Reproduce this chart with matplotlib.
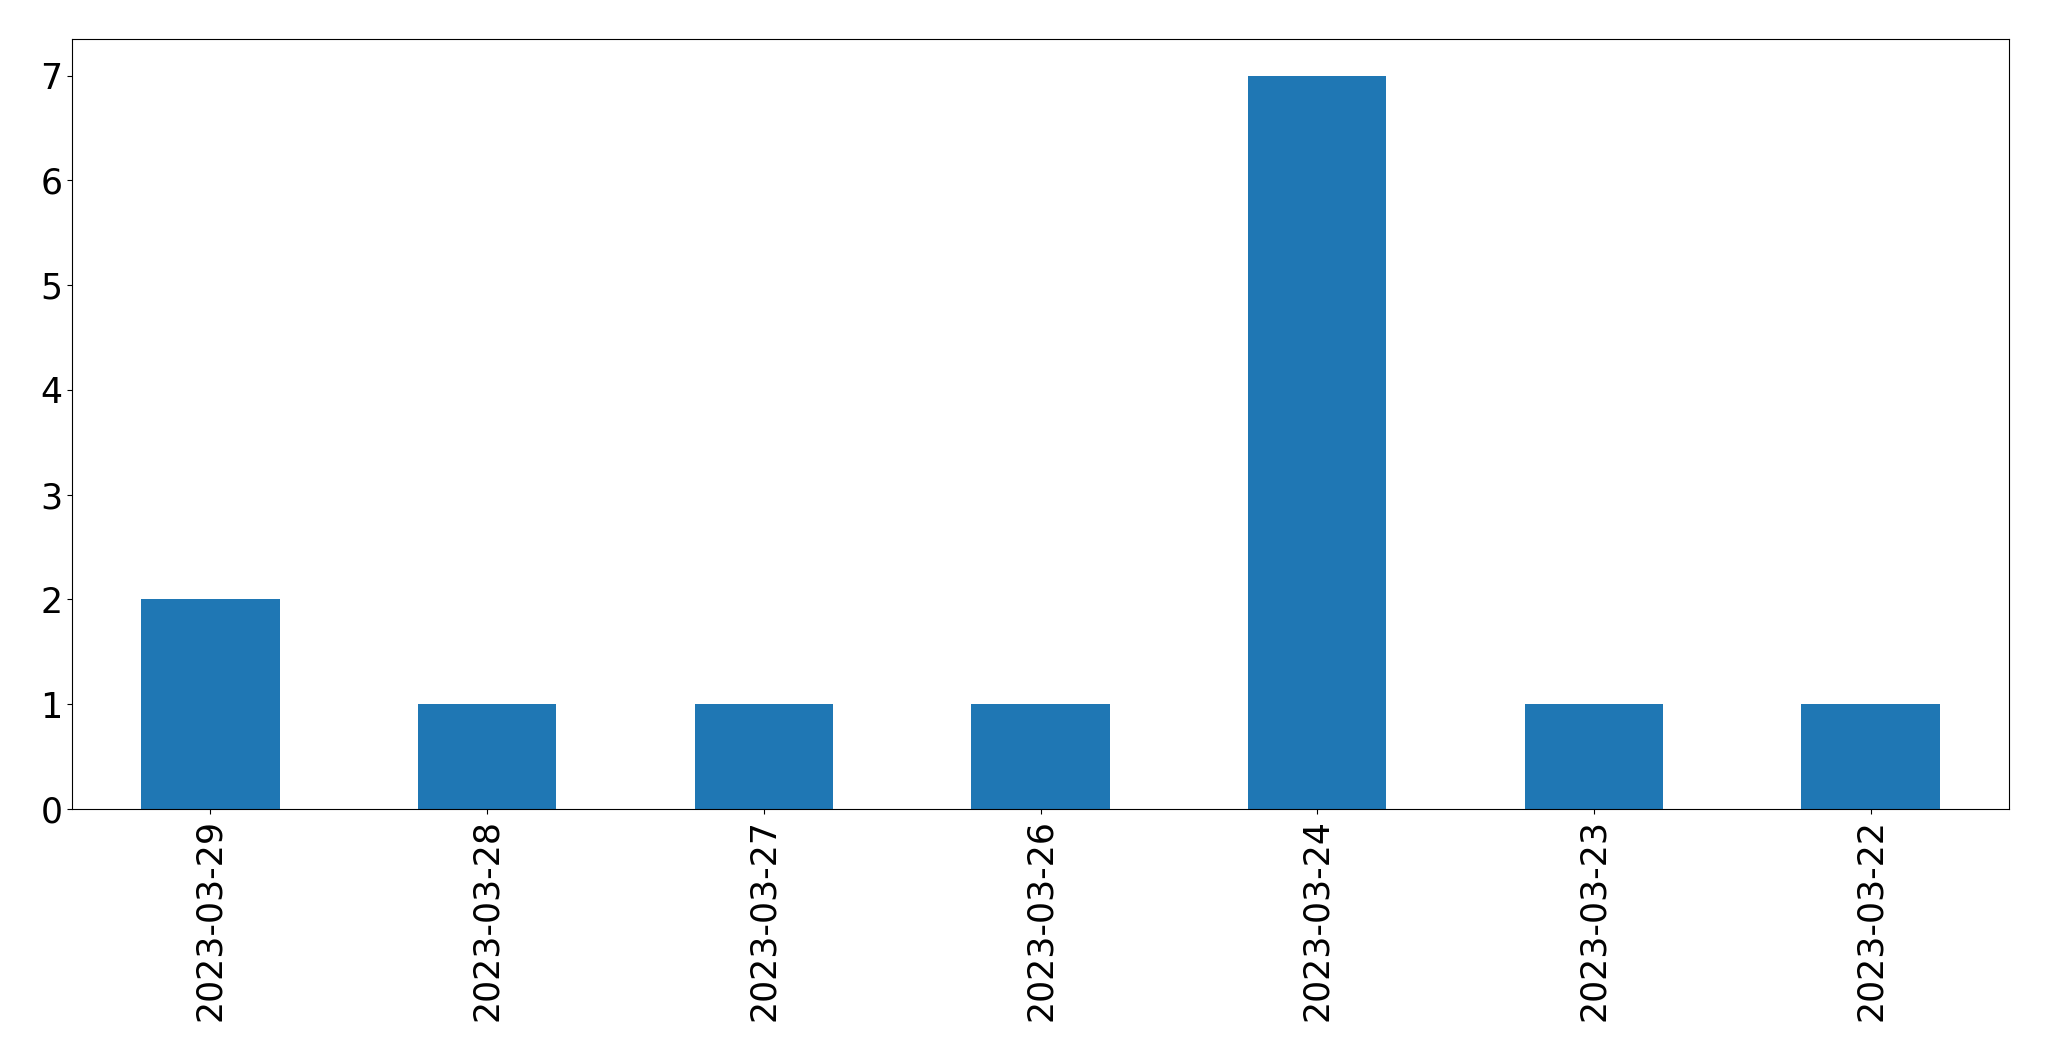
import matplotlib
matplotlib.use("Agg")
import matplotlib.pyplot as plt
import pandas as pd

# 日付ごとの件数
dates = ["2023-03-29", "2023-03-28", "2023-03-27", "2023-03-26",
         "2023-03-24", "2023-03-23", "2023-03-22"]
counts = [2, 1, 1, 1, 7, 1, 1]

s = pd.Series(counts, index=dates)

fig = plt.figure(figsize=(20.49, 10.61), dpi=100)
ax = fig.add_axes([72 / 2049, 1 - 809 / 1061, (2009 - 72) / 2049, (809 - 39) / 1061])
s.plot(kind="bar", ax=ax, color="#1f77b4")
ax.tick_params(labelsize=25)
ax.set_xlabel("")
fig.savefig("out.png", dpi=100)
